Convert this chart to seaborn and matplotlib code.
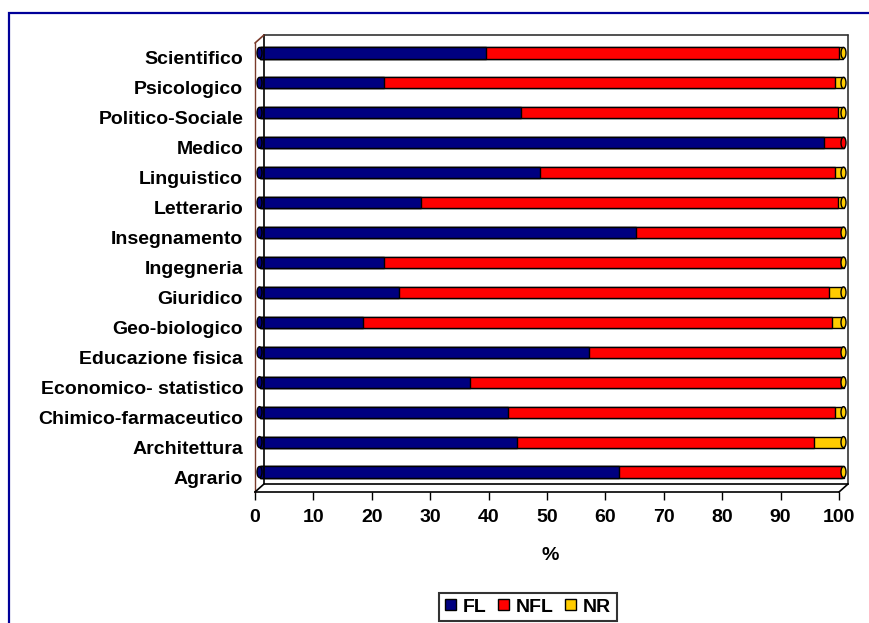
import matplotlib
matplotlib.use("Agg")
import matplotlib.pyplot as plt
import matplotlib.transforms as mtransforms
from matplotlib.lines import Line2D
from matplotlib.patches import Patch, Rectangle, Ellipse
import seaborn as sns
import pandas as pd
import numpy as np

# Faculty groups, top to bottom
categories = [
    "Scientifico", "Psicologico", "Politico-Sociale", "Medico", "Linguistico",
    "Letterario", "Insegnamento", "Ingegneria", "Giuridico", "Geo-biologico",
    "Educazione fisica", "Economico- statistico", "Chimico-farmaceutico",
    "Architettura", "Agrario",
]
fl = [38.8, 21.4, 44.8, 96.6, 48.0, 27.6, 64.5, 21.4, 23.9, 17.7, 56.4, 36.0, 42.6, 44.1, 61.6]
nr = [0.8, 1.5, 1.0, 0.0, 1.5, 1.0, 0.3, 0.5, 2.5, 2.0, 0.2, 0.4, 1.5, 5.0, 0.3]
nfl = [round(100 - a - b, 1) for a, b in zip(fl, nr)]
x_ticks = list(range(0, 101, 10))

series_names = ["FL", "NFL", "NR"]
series_colors = ["#000080", "#FF0000", "#FFCC00"]

df = pd.DataFrame({"categoria": categories, "FL": fl, "NFL": nfl, "NR": nr})
df["FL+NFL"] = df["FL"] + df["NFL"]
df["tot"] = df["FL+NFL"] + df["NR"]

sns.set_theme(style="white")
plt.rcParams["font.family"] = ["Liberation Sans", "DejaVu Sans"]
plt.rcParams["font.weight"] = "bold"
for key in ["text.color", "axes.labelcolor", "xtick.color", "ytick.color"]:
    plt.rcParams[key] = "black"

W, H = 869, 623
fig = plt.figure(figsize=(W / 100, H / 100), dpi=100)
fig.patch.set_facecolor("white")


def fx(px):
    return px / W


def fy(py):
    return 1 - py / H


# front plane of the box
x0, x1, y0, y1 = 255, 839, 43, 492
ax = fig.add_axes([fx(x0), fy(y1), fx(x1) - fx(x0), fy(y0) - fy(y1)])
ax.set_facecolor("none")

bar_w = 0.37
for col, color in zip(["tot", "FL+NFL", "FL"], series_colors[::-1]):
    sns.barplot(data=df, x=col, y="categoria", orient="h", color=color,
                width=bar_w, edgecolor="black", linewidth=1.0,
                saturation=1, ax=ax)

# bars sit halfway into the depth of the box
shift = mtransforms.ScaledTranslation(0.045, 0.05, fig.dpi_scale_trans)
for p in ax.patches:
    p.set_transform(ax.transData + shift)
    p.set_clip_on(False)

# rounded cylinder ends: left cap in FL colour, right cap in the last segment's colour
cap_w = 5.0 / ((x1 - x0) / 100.0)
for i, row in df.iterrows():
    end_color = series_colors[2] if row["NR"] > 0 else series_colors[1]
    for xc, c in [(0.0, series_colors[0]), (row["tot"], end_color)]:
        e = Ellipse((xc, i), cap_w, bar_w, facecolor=c, edgecolor="black",
                    linewidth=1.0, transform=ax.transData + shift, clip_on=False,
                    zorder=3)
        ax.add_patch(e)

ax.set_xlim(0, 100)
ax.set_ylim(len(categories) - 0.5, -0.5)
ax.set_xticks(x_ticks)
ax.set_xticklabels([str(t) for t in x_ticks], fontsize=14, fontweight="bold")
ax.set_yticks(range(len(categories)))
ax.set_yticklabels(categories, fontsize=14, fontweight="bold")
ax.set_yticks(np.arange(-0.5, len(categories), 1.0), minor=True)
ax.tick_params(axis="y", which="major", length=0, pad=8.5)
ax.tick_params(axis="y", which="minor", length=7.2, width=1.0, color="black", direction="out")
ax.tick_params(axis="x", which="major", length=6, width=1.0, color="black",
               direction="out", pad=6, bottom=True)
ax.set_ylabel("")
ax.set_xlabel("%", fontsize=14, fontweight="bold")
ax.xaxis.label.set_va("center")
ax.xaxis.set_label_coords((550 - x0) / (x1 - x0), (y1 - 555) / (y1 - y0))

for s in ["top", "right"]:
    ax.spines[s].set_visible(False)
ax.spines["left"].set_color("#7a3a2a")
ax.spines["left"].set_linewidth(1.0)
ax.spines["bottom"].set_color("black")
ax.spines["bottom"].set_linewidth(1.2)

# back wall, floor and depth edges of the box
dx, dy = 9, -8
box_lines = [
    ((x0 + dx, y0 + dy), (x1 + dx, y0 + dy), "#333333"),
    ((x1 + dx, y0 + dy), (x1 + dx, y1 + dy), "#333333"),
    ((x0 + dx, y0 + dy), (x0 + dx, y1 + dy), "black"),
    ((x0 + dx, y1 + dy), (x1 + dx, y1 + dy), "black"),
    ((x0, y0), (x0 + dx, y0 + dy), "#7a3a2a"),
    ((x0, y1), (x0 + dx, y1 + dy), "black"),
    ((x1, y1), (x1 + dx, y1 + dy), "black"),
]
for (ax_, ay_), (bx_, by_), c in box_lines:
    fig.add_artist(Line2D([fx(ax_), fx(bx_)], [fy(ay_), fy(by_)],
                          transform=fig.transFigure, color=c, linewidth=1.2))

# outer chart border
fig.add_artist(Rectangle((fx(9), -0.1), 1.2, fy(13) + 0.1, transform=fig.transFigure,
                         fill=False, edgecolor="#000099", linewidth=1.6))

handles = [Patch(facecolor=c, edgecolor="black", linewidth=1.0) for c in series_colors]
leg = fig.legend(handles, series_names, loc="center",
                 bbox_to_anchor=(fx(528), fy(607)), ncol=3, frameon=True,
                 fancybox=False, edgecolor="black", handlelength=0.55,
                 handleheight=0.55, handletextpad=0.35, columnspacing=0.6,
                 borderpad=0.3, prop={"size": 14, "weight": "bold"})
leg.get_frame().set_linewidth(1.5)

fig.savefig("out.png", dpi=100, facecolor="white")
